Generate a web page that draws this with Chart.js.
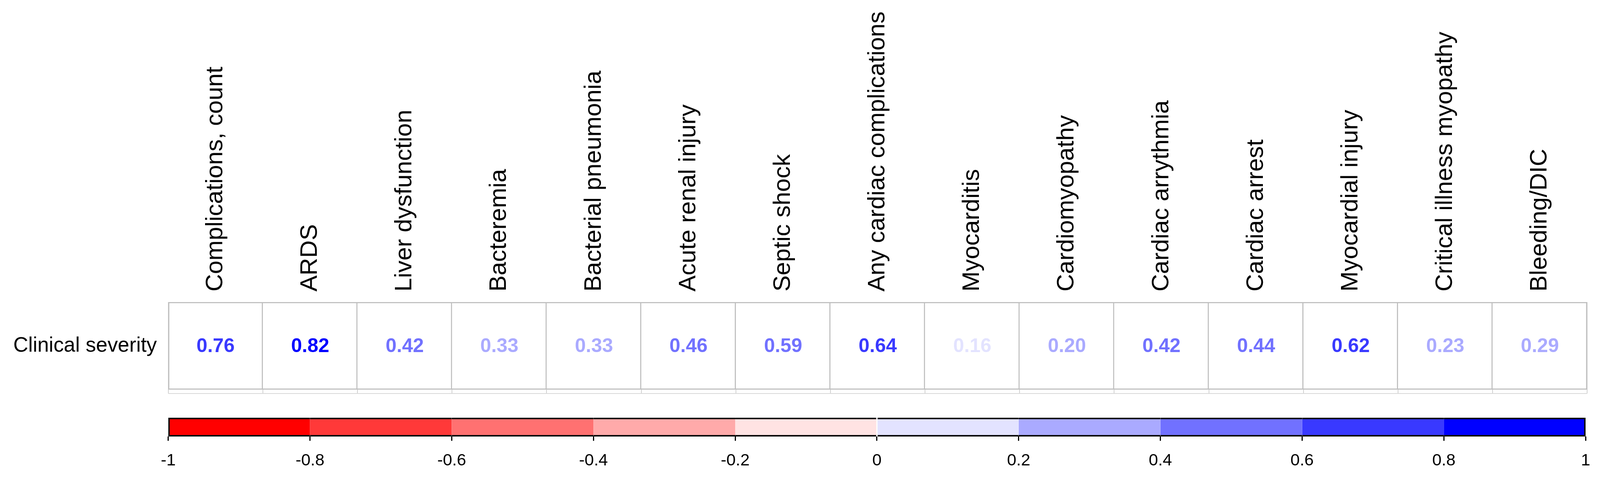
<!DOCTYPE html>
<html>
<head>
<meta charset="utf-8">
<script src="https://cdn.jsdelivr.net/npm/chart.js@4.4.0/dist/chart.umd.min.js"></script>
<style>
  html, body { margin: 0; padding: 0; background: #fff; }
  #wrap { position: relative; width: 4488px; height: 1236px; overflow: hidden; }
  #c1, #c2 { position: absolute; left: 0; }
  #err { position: absolute; left: 10px; top: 10px; font: 40px sans-serif; color: #c00; }
</style>
</head>
<body>
<div id="wrap">
  <canvas id="c1" width="4488" height="1068"></canvas>
  <canvas id="c2" width="4488" height="196"></canvas>
  <div id="err"></div>
</div>
<script>
// columns of the correlation row
const columns = [
  "Complications, count", "ARDS", "Liver dysfunction", "Bacteremia",
  "Bacterial pneumonia", "Acute renal injury", "Septic shock",
  "Any cardiac complications", "Myocarditis", "Cardiomyopathy",
  "Cardiac arrythmia", "Cardiac arrest", "Myocardial injury",
  "Critical illness myopathy", "Bleeding/DIC"
];
const rowLabels = ["Clinical severity"];
const severity = [0.76, 0.82, 0.42, 0.33, 0.33, 0.46, 0.59, 0.64, 0.16, 0.20, 0.42, 0.44, 0.62, 0.23, 0.29];

// colour key
const breaks = [-1, -0.8, -0.6, -0.4, -0.2, 0, 0.2, 0.4, 0.6, 0.8, 1];
const tickLabels = ["-1", "-0.8", "-0.6", "-0.4", "-0.2", "0", "0.2", "0.4", "0.6", "0.8", "1"];
const palette = ["#FF0000", "#FF3939", "#FF7171", "#FFAAAA", "#FFE3E3",
                 "#E3E3FF", "#AAAAFF", "#7171FF", "#3939FF", "#0000FF"];

try {
  // sizes below are for a 4488 x 1236 page; the real window may be narrower
  const W = window.innerWidth || 4488;
  const H = window.innerHeight || 1236;
  const sx = W / 4488, sy = H / 1236;
  const dx = function (v) { return v * sx; };
  const dy = function (v) { return v * sy; };

  const wrap = document.getElementById("wrap");
  wrap.style.width = W + "px";
  wrap.style.height = H + "px";
  const c1 = document.getElementById("c1");
  const c2 = document.getElementById("c2");
  c1.width = Math.round(W); c1.height = Math.round(dy(1068)); c1.style.top = "0px";
  c2.width = Math.round(W); c2.height = Math.round(dy(196)); c2.style.top = Math.round(dy(1040)) + "px";

  Chart.defaults.font.family = "'Liberation Sans', Arial, sans-serif";
  Chart.defaults.color = "#000";

  const colFont = dy(62);

  const colorFor = function (v) {
    let k = Math.floor((v - breaks[0]) / 0.2 + 1e-9);
    if (k < 0) k = 0;
    if (k > palette.length - 1) k = palette.length - 1;
    return palette[k];
  };

  // writes the coefficient in the middle of every cell
  const cellText = {
    id: "cellText",
    afterDatasetsDraw(chart) {
      const meta = chart.getDatasetMeta(0);
      const ctx = chart.ctx;
      ctx.save();
      ctx.font = "bold " + dx(55) + "px 'Liberation Sans', Arial, sans-serif";
      ctx.textAlign = "center";
      ctx.textBaseline = "middle";
      meta.data.forEach(function (bar, i) {
        const v = severity[i];
        ctx.fillStyle = colorFor(v);
        ctx.fillText(v.toFixed(2), bar.x, (bar.y + bar.base) / 2 + dy(2));
      });
      ctx.restore();
    }
  };

  // the table row
  new Chart(c1, {
    type: "bar",
    data: {
      labels: columns,
      datasets: [{
        data: severity.map(function () { return [0, 1]; }),
        backgroundColor: "#FFFFFF",
        borderColor: "#BEBEBE",
        borderWidth: function (c) {
          return { top: 3, bottom: 3, right: 3, left: c.dataIndex === 0 ? 3 : 0 };
        },
        borderSkipped: false,
        barPercentage: 1,
        categoryPercentage: 1
      }]
    },
    options: {
      responsive: false,
      devicePixelRatio: 1,
      animation: false,
      layout: { padding: { top: 0, right: dx(36), bottom: 0, left: 0 } },
      plugins: { legend: { display: false }, tooltip: { enabled: false } },
      scales: {
        x: {
          position: "top",
          grid: { display: true, drawTicks: false, offset: true, color: "#D0D0D0", lineWidth: 2 },
          border: { display: false },
          ticks: {
            autoSkip: false, minRotation: 90, maxRotation: 90, padding: dy(27),
            labelOffset: colFont * 1.2,
            color: "#000", font: { size: colFont }
          },
          afterFit: function (s) { s.height = dy(773); }
        },
        y: {
          min: -0.045, max: 1,
          grid: {
            drawTicks: false, lineWidth: 2,
            color: function (c) { return c.tick && c.tick.value < 0 ? "#D8D8D8" : "rgba(0,0,0,0)"; }
          },
          border: { display: false },
          afterBuildTicks: function (s) { s.ticks = [{ value: -0.045 }, { value: 0.5 }]; },
          ticks: {
            padding: dx(32), color: "#000", font: { size: dx(58) },
            callback: function (v) { return v === 0.5 ? rowLabels[0] : ""; }
          },
          afterFit: function (s) { s.width = dx(472); }
        }
      }
    },
    plugins: [cellText]
  });

  // the colour key underneath
  new Chart(c2, {
    type: "bar",
    data: {
      labels: ["key"],
      datasets: palette.map(function (col, i) {
        return {
          data: [[breaks[i], breaks[i + 1]]],
          backgroundColor: col,
          borderColor: "#000",
          borderWidth: { top: 4, bottom: 4, left: i === 0 ? 4 : 0, right: i === palette.length - 1 ? 4 : 0 },
          borderSkipped: false,
          barPercentage: 1,
          categoryPercentage: 1,
          grouped: false
        };
      })
    },
    options: {
      indexAxis: "y",
      responsive: false,
      devicePixelRatio: 1,
      animation: false,
      layout: { padding: { top: dy(29), right: dx(36), bottom: 0, left: 0 } },
      plugins: { legend: { display: false }, tooltip: { enabled: false } },
      scales: {
        y: {
          grid: { display: false },
          border: { display: false },
          ticks: { display: false },
          afterFit: function (s) { s.width = dx(472); }
        },
        x: {
          type: "linear", min: -1, max: 1,
          grid: { drawOnChartArea: false, drawTicks: true, tickLength: dy(11), color: "#000", lineWidth: 3 },
          border: { display: false },
          afterBuildTicks: function (s) { s.ticks = breaks.map(function (v) { return { value: v }; }); },
          ticks: {
            padding: dy(25), color: "#000", font: { size: dx(47) },
            callback: function (v, i) { return tickLabels[i]; }
          },
          afterFit: function (s) { s.height = dy(119); }
        }
      }
    }
  });
} catch (e) {
  document.getElementById("err").textContent = String(e && e.stack || e);
}
</script>
</body>
</html>
